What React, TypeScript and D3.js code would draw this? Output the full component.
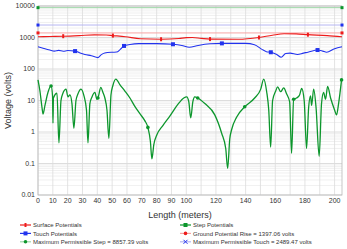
import React from "react";
import * as d3 from "d3";

// ---------- data ----------
const surfaceX = [0, 8, 17, 28, 38, 46, 50.5, 59, 69, 83, 95, 100, 104, 110, 116, 135, 149, 158, 166, 174, 182, 195, 205];
const surfaceV = [1060, 1080, 1100, 1150, 1210, 1200, 1150, 1060, 910, 880, 930, 990, 1000, 940, 890, 880, 1000, 1180, 1320, 1300, 1230, 1150, 1060];
const surfaceMarkers = [17, 50.5, 83, 116, 149, 182];

const touchX = [0, 4, 8, 11, 14, 17, 20, 25, 28, 31.6, 36, 40.4, 42.5, 45, 50, 53, 55.5, 58, 62, 68, 80, 91, 97, 102, 108, 116, 124, 140, 146, 151, 154, 157, 161, 164, 167, 170, 175, 179, 182, 188.5, 192, 194.6, 200, 205];
const touchV = [510, 450, 400, 370, 390, 365, 385, 370, 330, 290, 265, 230, 280, 320, 340, 345, 420, 540, 600, 640, 640, 610, 560, 490, 560, 630, 650, 650, 590, 420, 355, 340, 290, 235, 310, 320, 290, 320, 340, 400, 370, 340, 440, 510];
const touchMarkers = [25, 58, 91, 124, 157, 188.5];

const stepX = [0, 1.3, 2.7, 3.4, 4.7, 6.7, 8.8, 9.8, 10.1, 10.4, 12.8, 14.1, 15.5, 16.8, 18.9, 20.2, 21.5, 22.9, 24.2, 25.6, 26.9, 29, 31, 32.7, 33.7, 35, 36.4, 38.4, 39.7, 40.4, 42.4, 43.8, 45.1, 46.5, 47.8, 49.2, 50.5, 52.5, 55.2, 58.6, 62, 65.3, 68.7, 72, 74.1, 75.8, 76.8, 78.1, 80.1, 84.2, 88.9, 94.3, 98.3, 100.3, 101.7, 103, 104.4, 105.7, 107.7, 112.5, 119.2, 123.9, 126.6, 127.9, 129.3, 130.6, 134, 139.4, 146.1, 150.2, 152.2, 154.2, 155.6, 156.9, 158.2, 160.3, 161.6, 163.6, 165.7, 167.7, 169.7, 171, 172.4, 174.4, 176.4, 177.8, 179.5, 181.1, 182.5, 183.8, 184.5, 185.9, 187.5, 189.6, 191.2, 192.6, 193.9, 195.3, 197.3, 200, 201.3, 202.7, 204.7];
const stepV = [45, 20, 6, 3.7, 7, 18, 29, 14, 1.9, 12, 17, 0.45, 10, 17, 23, 13, 15, 8, 1.3, 10, 16, 23, 14, 5, 0.45, 8, 13, 18, 11, 12, 26, 18, 12, 5, 0.63, 15, 30, 48, 32, 20, 12, 6.5, 3.8, 2.3, 1.4, 0.5, 0.14, 0.4, 0.8, 1.6, 3.2, 7.5, 12, 13, 9, 2.8, 9, 13, 12, 8, 3.5, 0.9, 0.3, 0.07, 0.6, 1.2, 3, 6.3, 12, 23, 48, 19, 5, 0.33, 10, 20, 27, 19, 25, 16, 9, 0.21, 11, 12, 15, 24, 10, 0.3, 6, 14, 7, 23, 6, 0.17, 8, 18, 11, 28, 12, 5, 3.5, 8, 45];
const stepMarkers = [8.8, 40.4, 74.1, 107.7, 139.4, 172.4, 204.7];

const groundPotentialRise = 1397.06;
const maxPermissibleStep = 8857.39;
const maxPermissibleTouch = 2489.47;

const xTicks = [0, 10, 20, 30, 40, 50, 60, 70, 80, 90, 100, 120, 140, 160, 180, 200];
const xGrid = d3.range(0, 201, 10);
const yTicks = [0.01, 0.1, 1, 10, 100, 1000, 10000];
const yTickLabels = ["0.01", "0.1", "1", "10", "100", "1000", "10000"];

const legendLabels = [
  "Surface Potentials",
  "Step Potentials",
  "Touch Potentials",
  "Ground Potential Rise = 1397.06 volts",
  "Maximum Permissible Step = 8857.39 volts",
  "Maximum Permissible Touch = 2489.47 volts",
];

// ---------- layout ----------
const W = 347, H = 249;
const L = 38, R = 342, T = 6, B = 195;
const FONT = "'Liberation Sans', Arial, sans-serif";

const RED = "#ee1c1c", BLUE = "#2233ee", GREEN = "#0c962c";
const LRED = "#f6a5a5", LBLUE = "#b6b6f2", LGREEN = "#9ed8a8";

export default function App() {
  const x = d3.scaleLinear().domain([0, 205]).range([L, R]);
  const y = d3.scaleLog().domain([0.01, 10000]).range([B, T]);

  const mk = (xs: number[], vs: number[]) => xs.map((v, i) => [v, vs[i]] as [number, number]);
  const surface = mk(surfaceX, surfaceV);
  const touch = mk(touchX, touchV);
  const step = mk(stepX, stepV);

  const line = d3.line<[number, number]>().x(d => x(d[0])).y(d => y(d[1])).curve(d3.curveMonotoneX);

  const interp = (xs: number[], vs: number[], xv: number) => {
    const i = d3.bisectLeft(xs, xv);
    if (i <= 0) return vs[0];
    if (i >= xs.length) return vs[vs.length - 1];
    const t = (xv - xs[i - 1]) / (xs[i] - xs[i - 1]);
    return Math.pow(10, Math.log10(vs[i - 1]) * (1 - t) + Math.log10(vs[i]) * t);
  };

  const minor: number[] = [];
  for (let e = -2; e < 4; e++) for (let k = 2; k <= 9; k++) minor.push(k * Math.pow(10, e));

  const legendItems = [
    { col: 0, row: 0, color: RED, mcolor: RED, m: "tick" },
    { col: 1, row: 0, color: GREEN, mcolor: GREEN, m: "square" },
    { col: 0, row: 1, color: BLUE, mcolor: BLUE, m: "square" },
    { col: 1, row: 1, color: LRED, mcolor: RED, m: "circle" },
    { col: 0, row: 2, color: LGREEN, mcolor: GREEN, m: "circle" },
    { col: 1, row: 2, color: LBLUE, mcolor: BLUE, m: "x" },
  ];

  const marker = (kind: string, cx: number, cy: number, color: string, key: any) => {
    if (kind === "square") return <rect key={key} x={cx - 2} y={cy - 2} width={4} height={4} fill={color} />;
    if (kind === "small") return <rect key={key} x={cx - 1.5} y={cy - 1.5} width={3} height={3} fill={color} />;
    if (kind === "circle") return <circle key={key} cx={cx} cy={cy} r={1.8} fill={color} />;
    if (kind === "tick") return <rect key={key} x={cx - 1} y={cy - 2} width={2} height={4} fill={color} />;
    return (
      <g key={key} stroke={color} strokeWidth={1}>
        <line x1={cx - 2} y1={cy - 2} x2={cx + 2} y2={cy + 2} />
        <line x1={cx - 2} y1={cy + 2} x2={cx + 2} y2={cy - 2} />
      </g>
    );
  };

  const refs: [number, string, string][] = [
    [groundPotentialRise, LRED, RED],
    [maxPermissibleTouch, LBLUE, BLUE],
    [maxPermissibleStep, LGREEN, GREEN],
  ];

  return (
    <svg width={W} height={H} style={{ position: "absolute", left: 0, top: 0, background: "#fff" }} fontFamily={FONT}>
      {/* grid */}
      {minor.map((v, i) => (
        <line key={"mn" + i} x1={L} x2={R} y1={y(v)} y2={y(v)} stroke="#ececec" strokeWidth={0.8} />
      ))}
      {yTicks.map((v, i) => (
        <line key={"mj" + i} x1={L} x2={R} y1={y(v)} y2={y(v)} stroke="#d4d4d4" strokeWidth={0.8} />
      ))}
      {xGrid.map((v, i) => (
        <line key={"xg" + i} x1={x(v)} x2={x(v)} y1={T} y2={B} stroke="#dcdcdc" strokeWidth={0.8} />
      ))}
      <rect x={L} y={T} width={R - L} height={B - T} fill="none" stroke="#b8b8b8" strokeWidth={0.8} />

      {/* reference lines */}
      {refs.map(([v, c, mc], i) => (
        <g key={"ref" + i}>
          <line x1={x(0)} x2={x(205)} y1={y(v)} y2={y(v)} stroke={c} strokeWidth={1} />
          {marker("small", x(0), y(v), mc, "a")}
          {marker("small", x(205), y(v), mc, "b")}
        </g>
      ))}

      {/* series */}
      <path d={line(step) || ""} fill="none" stroke={GREEN} strokeWidth={1.3} />
      <path d={line(touch) || ""} fill="none" stroke={BLUE} strokeWidth={1.1} />
      <path d={line(surface) || ""} fill="none" stroke={RED} strokeWidth={1.1} />
      {stepMarkers.map((m, i) => marker("circle", x(m), y(interp(stepX, stepV, m)), GREEN, "sm" + i))}
      {touchMarkers.map((m, i) => marker("square", x(m), y(interp(touchX, touchV, m)), BLUE, "tm" + i))}
      {surfaceMarkers.map((m, i) => marker("tick", x(m), y(interp(surfaceX, surfaceV, m)), RED, "rm" + i))}

      {/* axes labels */}
      {yTicks.map((v, i) => (
        <text key={"yt" + i} x={L - 3} y={y(v)} dy="0.33em" textAnchor="end" fontSize={7} fill="#333">
          {yTickLabels[i]}
        </text>
      ))}
      {xTicks.map((v, i) => (
        <text key={"xt" + i} x={x(v)} y={B + 8} textAnchor="middle" fontSize={7} fill="#333">
          {v}
        </text>
      ))}
      <text x={180} y={218} textAnchor="middle" fontSize={9} fill="#333">Length (meters)</text>
      <text transform={`translate(11,${(T + B) / 2}) rotate(-90)`} textAnchor="middle" fontSize={9} fill="#333">
        Voltage (volts)
      </text>

      {/* legend */}
      {legendItems.map((it, i) => {
        const lx = it.col === 0 ? 20 : 180;
        const ly = 225 + it.row * 8.4;
        return (
          <g key={"lg" + i}>
            <line x1={lx} x2={lx + 11} y1={ly} y2={ly} stroke={it.color} strokeWidth={1.2} />
            {marker(it.m, lx + 5.5, ly, it.mcolor, "m")}
            <text x={lx + 13} y={ly} dy="0.35em" fontSize={6} fill="#333">{legendLabels[i]}</text>
          </g>
        );
      })}
    </svg>
  );
}
